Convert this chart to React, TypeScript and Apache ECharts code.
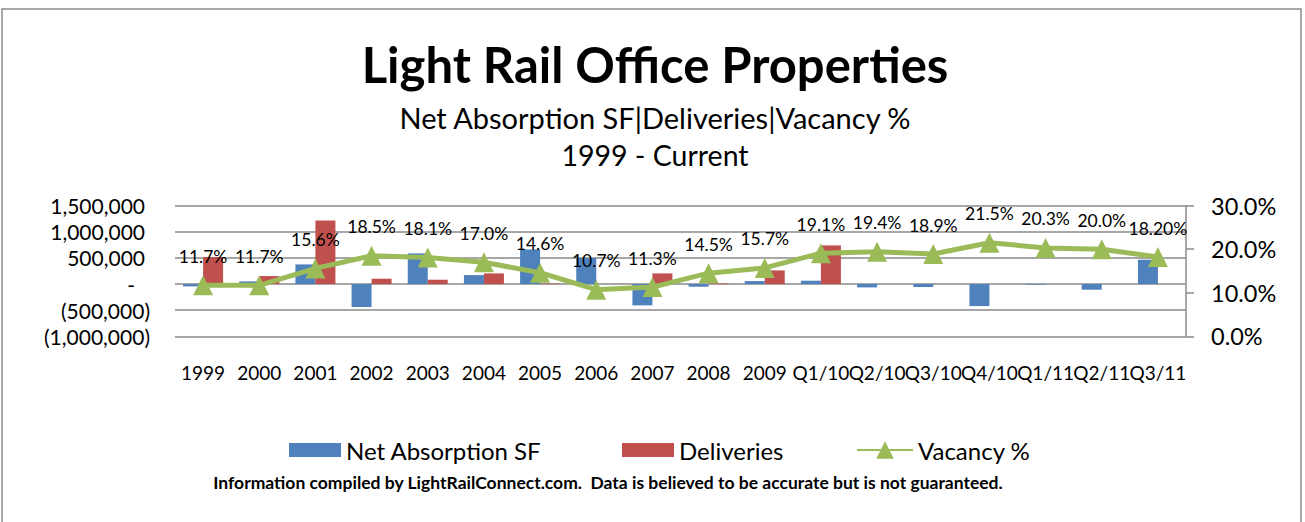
import React, { useEffect, useRef } from "react";
import * as echarts from "echarts";

const categories = ["1999", "2000", "2001", "2002", "2003", "2004", "2005", "2006", "2007", "2008", "2009", "Q1/10", "Q2/10", "Q3/10", "Q4/10", "Q1/11", "Q2/11", "Q3/11"];
const netAbsorption = [-45000, 51000, 376000, -440000, 587000, 172000, 663000, 497000, -408000, -51000, 57000, 64000, -64000, -57000, -421000, -12000, -108000, 466000];
const deliveries = [517000, 153000, 1218000, 102000, 83000, 204000, 10000, 0, 204000, 12000, 261000, 740000, 0, 0, 0, 0, 0, 0];
const vacancy = [11.7, 11.7, 15.6, 18.5, 18.1, 17.0, 14.6, 10.7, 11.3, 14.5, 15.7, 19.1, 19.4, 18.9, 21.5, 20.3, 20.0, 18.2];
const vacancyLabels = ["11.7%", "11.7%", "15.6%", "18.5%", "18.1%", "17.0%", "14.6%", "10.7%", "11.3%", "14.5%", "15.7%", "19.1%", "19.4%", "18.9%", "21.5%", "20.3%", "20.0%", "18.20%"];

const FONT = "Lato";
const BLUE = "#4F81BD";
const RED = "#C0504D";
const GREEN = "#9BBB59";
const GRID = "#8a8a8a";

const fmt = (v: number) => Math.abs(v).toLocaleString("en-US");

export default function App() {
  const ref = useRef<HTMLDivElement>(null);
  useEffect(() => {
    if (!ref.current) return;
    const chart = echarts.init(ref.current, null, { renderer: "svg" });
    const legendText = { fontFamily: FONT, fontSize: 24, color: "#000" };
    chart.setOption({
      animation: false,
      backgroundColor: "#fff",
      textStyle: { fontFamily: FONT },
      graphic: [
        { type: "rect", shape: { x: 2, y: 9, width: 1299, height: 530 }, style: { fill: "none", stroke: "#8c8c8c", lineWidth: 1.5 }, silent: true },
        { type: "text", x: 655, y: 64, style: { text: "Light Rail Office Properties", font: `bold 49px ${FONT}`, fill: "#000", align: "center", verticalAlign: "middle" } },
        { type: "text", x: 655, y: 117, style: { text: "Net Absorption SF|Deliveries|Vacancy %", font: `29px ${FONT}`, fill: "#000", align: "center", verticalAlign: "middle" } },
        { type: "text", x: 655, y: 155, style: { text: "1999 - Current", font: `28.5px ${FONT}`, fill: "#000", align: "center", verticalAlign: "middle" } },
        { type: "text", x: 608, y: 482, style: { text: "Information compiled by LightRailConnect.com.  Data is believed to be accurate but is not guaranteed.", font: `bold 17.5px ${FONT}`, fill: "#000", align: "center", verticalAlign: "middle" } },
      ],
      legend: [
        { data: ["Net Absorption SF"], left: 289, top: 438, padding: 0, itemWidth: 52, itemHeight: 14, icon: "rect", textStyle: legendText, selectedMode: false },
        { data: ["Deliveries"], left: 622, top: 438, padding: 0, itemWidth: 52, itemHeight: 14, icon: "rect", textStyle: legendText, selectedMode: false },
        { data: ["Vacancy %"], left: 856, top: 438, padding: 0, itemWidth: 56, itemHeight: 22, textStyle: legendText, selectedMode: false },
      ],
      grid: { left: 175, right: 119, top: 205.7, bottom: 185.7, containLabel: false },
      xAxis: {
        type: "category",
        data: categories,
        axisLine: { show: false, onZero: false },
        axisTick: { show: false },
        splitLine: { show: false },
        axisLabel: { interval: 0, margin: 27, fontSize: 19, fontFamily: FONT, color: "#000" },
      },
      yAxis: [
        {
          type: "value",
          min: -1000000,
          max: 1500000,
          interval: 500000,
          axisLine: { show: false },
          axisTick: { show: false },
          splitLine: { show: true, lineStyle: { color: GRID, width: 1.5 } },
          axisLabel: {
            margin: 25,
            color: "#000",
            fontSize: 21,
            fontFamily: FONT,
            formatter: (v: number) => (v === 0 ? "{z|-}" : v < 0 ? "(" + fmt(v) + ")" : "{p|" + fmt(v) + "}"),
            rich: {
              p: { fontSize: 21, fontFamily: FONT, color: "#000", padding: [0, 5, 0, 0] },
              z: { fontSize: 21, fontFamily: FONT, color: "#000", padding: [0, 15, 0, 0] },
            },
          },
        },
        {
          type: "value",
          position: "right",
          min: 0,
          max: 30,
          interval: 10,
          axisLine: { show: true, lineStyle: { color: GRID, width: 1.5 } },
          axisTick: { show: true, inside: false, length: 8, lineStyle: { color: GRID, width: 1.5 } },
          splitLine: { show: false },
          axisLabel: { margin: 25, color: "#000", fontSize: 23.5, fontFamily: FONT, formatter: (v: number) => v.toFixed(1) + "%" },
        },
      ],
      series: [
        { name: "Net Absorption SF", type: "bar", data: netAbsorption, barWidth: 20, barGap: "0%", itemStyle: { color: BLUE } },
        { name: "Deliveries", type: "bar", data: deliveries, barWidth: 20, barGap: "0%", itemStyle: { color: RED } },
        {
          name: "Vacancy %",
          type: "line",
          yAxisIndex: 1,
          data: vacancy,
          symbol: "triangle",
          symbolSize: 20,
          lineStyle: { color: GREEN, width: 5 },
          itemStyle: { color: GREEN },
          z: 5,
          label: {
            show: true,
            position: "top",
            distance: 10,
            fontSize: 17.5,
            fontFamily: FONT,
            color: "#000",
            formatter: (p: any) => vacancyLabels[p.dataIndex],
          },
        },
      ],
    });
    return () => chart.dispose();
  }, []);
  return <div ref={ref} style={{ position: "absolute", left: 0, top: 0, width: 1305, height: 522 }} />;
}
